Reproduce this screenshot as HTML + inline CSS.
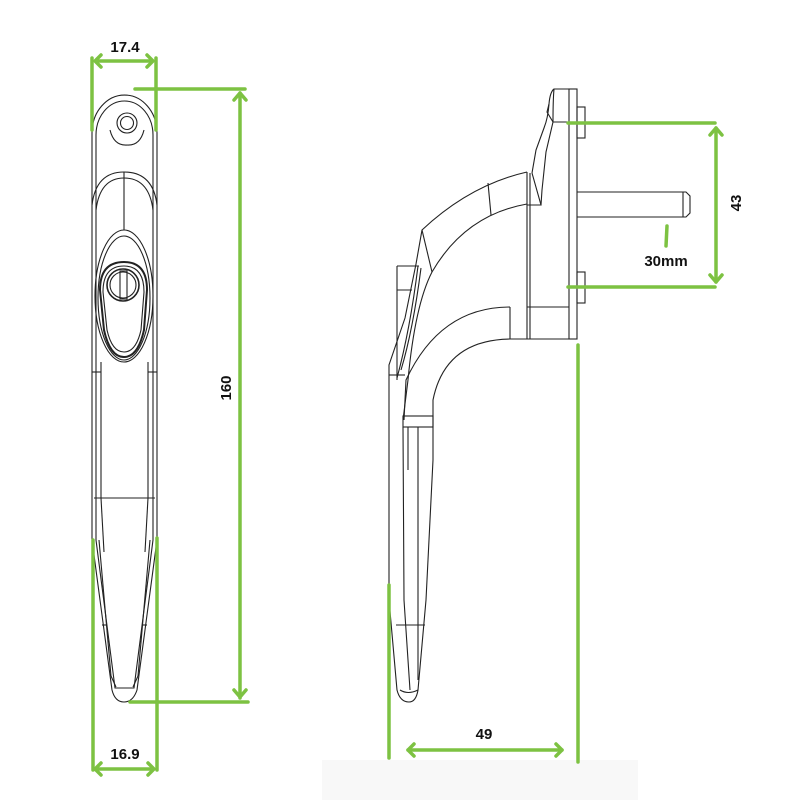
<!DOCTYPE html>
<html><head><meta charset="utf-8"><style>
html,body{margin:0;padding:0;background:#fff;}
svg{display:block;}
text{font-family:"Liberation Sans",sans-serif;font-weight:bold;fill:#111;}
</style></head><body>
<svg width="800" height="800" viewBox="0 0 800 800" xmlns="http://www.w3.org/2000/svg">
<rect x="322" y="760" width="316" height="40" fill="#f8f8f8"/>
<g fill="none" stroke="#222" stroke-width="1.1">
<!-- FRONT VIEW -->
<path d="M92,133 A32.5,38 0 0 1 157,133 L157,540 L137,690 Q133,702 124,702 Q115,702 112,690 L92,540 Z"/>
<path d="M96,135 A28.5,34 0 0 1 153,135 L153,540 L134,688 L115,688 L96,540 Z"/>
<circle cx="127" cy="123" r="10"/>
<circle cx="127" cy="123" r="6.5"/>
<path d="M110,130 Q114,146 127,145 Q140,146 144,130"/>
<path d="M92,205 Q96,172 124,172 Q153,172 157,205"/>
<path d="M96,210 Q100,178 124,178 Q149,178 153,210"/>
<line x1="124" y1="172" x2="124" y2="230"/>
<ellipse cx="124" cy="296" rx="29" ry="66"/>
<ellipse cx="124" cy="298" rx="26" ry="62"/>
<path d="M100,290 Q100,262 124,262 Q147,262 147,290 L144,330 Q138,357 124,357 Q110,357 104,330 Z" stroke-width="2"/>
<path d="M103,292 Q103,266 124,266 Q144,266 144,292 L141,330 Q136,352 124,352 Q112,352 107,330 Z"/>
<circle cx="123" cy="285" r="16" stroke-width="1.6"/>
<circle cx="123" cy="285" r="13"/>
<rect x="120" y="271" width="7" height="28"/>
<line x1="92" y1="372" x2="101" y2="372"/><line x1="148" y1="372" x2="157" y2="372"/>
<line x1="101" y1="362" x2="101" y2="498"/><line x1="148" y1="362" x2="148" y2="498"/>
<line x1="94" y1="498" x2="155" y2="498"/>
<line x1="101" y1="498" x2="104" y2="552"/><line x1="148" y1="498" x2="145" y2="552"/>
<line x1="99" y1="540" x2="111" y2="676"/><line x1="150" y1="540" x2="138" y2="676"/>
<line x1="102" y1="625" x2="107" y2="625"/><line x1="142" y1="625" x2="147" y2="625"/>
<path d="M111,676 L116,687 M138,676 L133,687"/>
<!-- SIDE VIEW -->
<rect x="569" y="89" width="8" height="250"/>
<rect x="577" y="107" width="8" height="31"/>
<rect x="577" y="272" width="8" height="31"/>
<path d="M577,192 L686,192 L690,196 L690,213 L686,217 L577,217"/>
<line x1="683" y1="192" x2="683" y2="217"/>
<path d="M569,89 L554,89 Q550,92 549,104 L547,112 L553,122 L569,122"/>
<path d="M549,104 Q548,118 544,128 L536,150 L532,173"/>
<path d="M554,89 Q553,100 553,122 L546,152 L542,190 L541,205"/>
<path d="M532,173 L541,205 L527,205"/>
<line x1="527" y1="172" x2="527" y2="339"/>
<line x1="530" y1="173" x2="530" y2="339"/>
<line x1="527" y1="307" x2="569" y2="307"/>
<line x1="527" y1="339" x2="569" y2="339"/>
<path d="M527,172 Q470,185 422,230 L416,264 L405,318 L389,365 L389,600 L397,690 Q400,702 409,702 Q416,702 418,690 L426,600 L433,460 L433,400 Q445,340 510,339 L527,339"/>
<path d="M527,204 Q465,215 432,272 Q415,305 408,380 L403,420"/>
<line x1="488" y1="183" x2="491" y2="215"/>
<line x1="422" y1="230" x2="432" y2="272"/>
<path d="M510,307 Q440,307 406,380 L404,420"/>
<line x1="510" y1="307" x2="510" y2="339"/>
<path d="M397,266 L419,266 M397,266 L397,380 M397,290 L412,290"/>
<path d="M418,266 Q410,330 397,378"/>
<path d="M421,268 Q413,330 401,370"/>
<line x1="389" y1="375" x2="405" y2="375"/>
<rect x="403" y="416" width="30" height="11"/>
<line x1="408" y1="427" x2="408" y2="470"/>
<line x1="418" y1="427" x2="418" y2="680"/>
<path d="M403,427 L404,600 L410,690"/>
<line x1="396" y1="625" x2="425" y2="625"/>
<path d="M400,690 Q408,695 418,690"/>
</g>
<!-- DIMENSIONS -->
<g stroke="#7dc242" stroke-width="3.5" fill="none" stroke-linecap="round" stroke-linejoin="round">
<line x1="92" y1="58" x2="92" y2="130"/><line x1="156" y1="58" x2="156" y2="130"/>
<line x1="96" y1="61" x2="152" y2="61"/>
<path d="M101,55 L95,61 L101,67 M147,55 L153,61 L147,67"/>
<line x1="135" y1="89" x2="245" y2="89"/>
<line x1="240" y1="93" x2="240" y2="698"/>
<path d="M234,100 L240,93 L246,100 M234,690 L240,697 L246,690"/>
<line x1="130" y1="702" x2="248" y2="702"/>
<line x1="93" y1="540" x2="93" y2="770"/><line x1="157" y1="538" x2="157" y2="770"/>
<line x1="96" y1="769" x2="153" y2="769"/>
<path d="M101,763 L95,769 L101,775 M148,763 L154,769 L148,775"/>
<line x1="568" y1="123" x2="715" y2="123"/>
<line x1="568" y1="287" x2="715" y2="287"/>
<line x1="716" y1="128" x2="716" y2="282"/>
<path d="M710,135 L716,128 L722,135 M710,275 L716,282 L722,275"/>
<line x1="667" y1="226" x2="666" y2="246"/>
<line x1="389" y1="585" x2="389" y2="758"/>
<line x1="578" y1="345" x2="578" y2="762"/>
<line x1="408" y1="750" x2="562" y2="750"/>
<path d="M414,744 L408,750 L414,756 M556,744 L562,750 L556,756"/>
</g>
<text x="125" y="52" font-size="15" text-anchor="middle">17.4</text>
<text x="125" y="759" font-size="15" text-anchor="middle">16.9</text>
<text x="484" y="739" font-size="15" text-anchor="middle">49</text>
<text x="666" y="266" font-size="15" text-anchor="middle">30mm</text>
<text transform="translate(231,388) rotate(-90)" font-size="15" text-anchor="middle">160</text>
<text transform="translate(741,203) rotate(-90)" font-size="15" text-anchor="middle">43</text>
</svg>
</body></html>
